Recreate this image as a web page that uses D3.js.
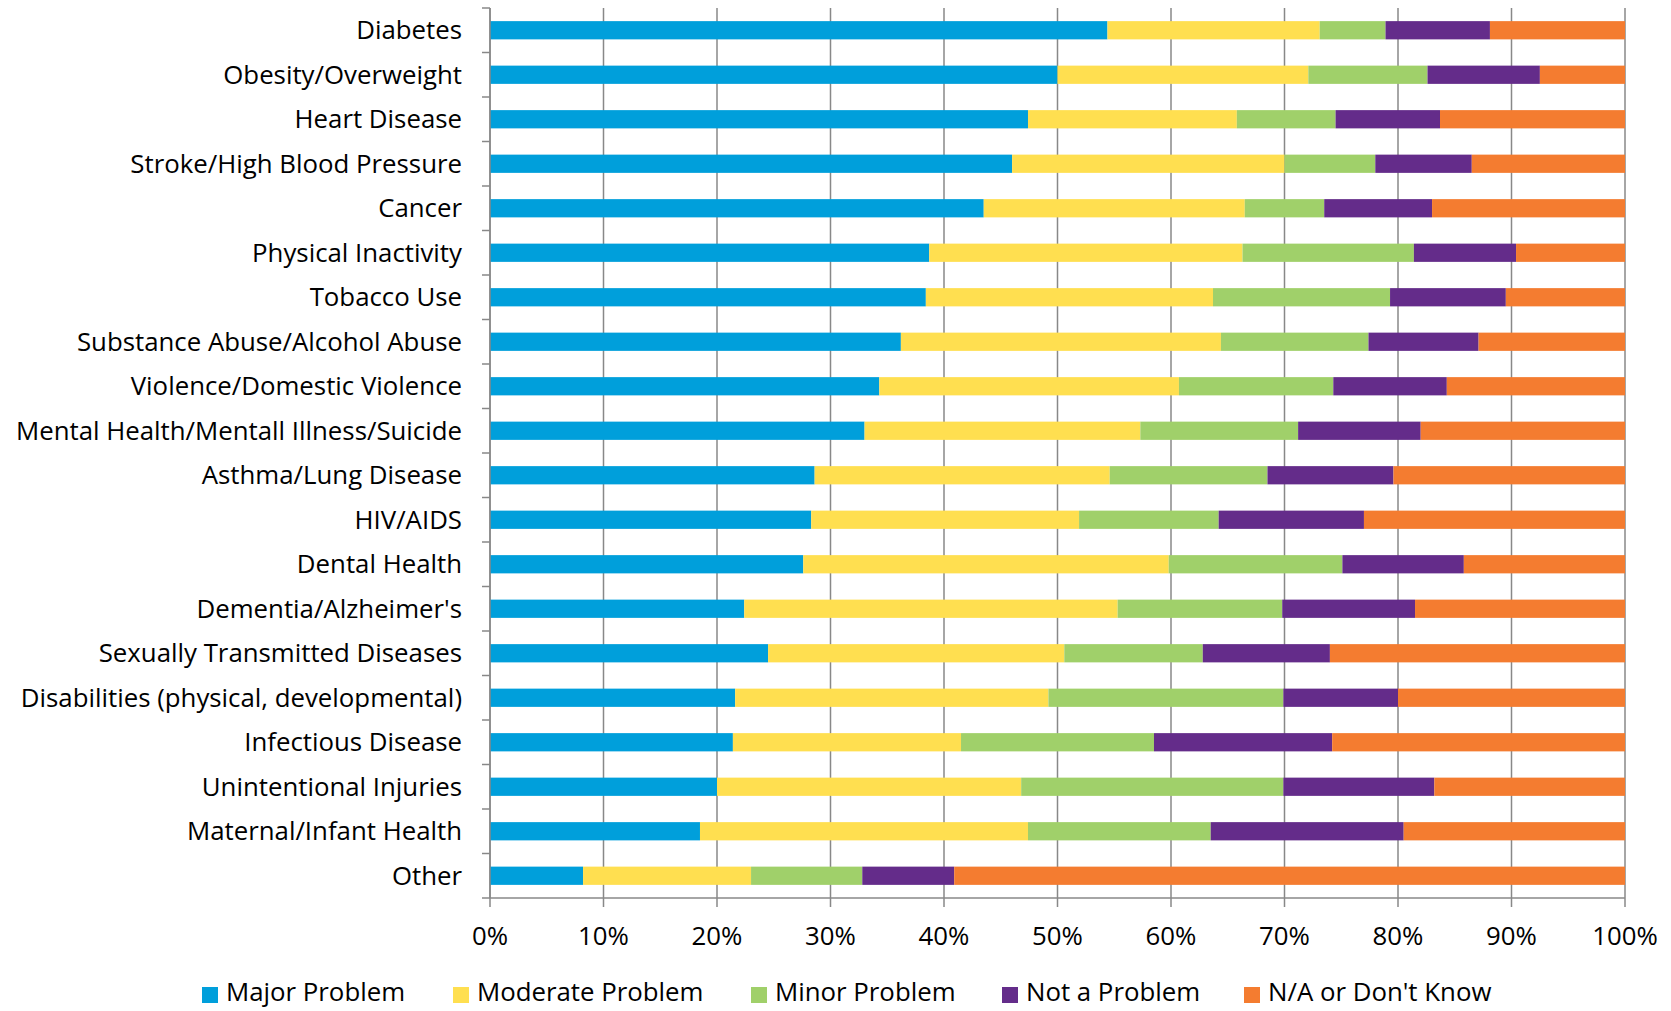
<!DOCTYPE html>
<html>
<head>
<meta charset="utf-8">
<script src="https://cdn.jsdelivr.net/npm/d3@7"></script>
<style>
  body { margin: 0; background: #fff; }
  text { font-family: "Open Sans", Lato, sans-serif; fill: #000; }
</style>
</head>
<body>
<div id="container"></div>
<script>
const categories = [
  "Diabetes", "Obesity/Overweight", "Heart Disease", "Stroke/High Blood Pressure",
  "Cancer", "Physical Inactivity", "Tobacco Use", "Substance Abuse/Alcohol Abuse",
  "Violence/Domestic Violence", "Mental Health/Mentall Illness/Suicide",
  "Asthma/Lung Disease", "HIV/AIDS", "Dental Health", "Dementia/Alzheimer's",
  "Sexually Transmitted Diseases", "Disabilities (physical, developmental)",
  "Infectious Disease", "Unintentional Injuries", "Maternal/Infant Health", "Other"
];

const seriesNames = ["Major Problem", "Moderate Problem", "Minor Problem", "Not a Problem", "N/A or Don't Know"];
const seriesColors = ["#009fdb", "#ffdf50", "#a0d06a", "#642c8a", "#f47c30"];

// percent shares per category, same order as categories
const major    = [54.4, 50.0, 47.4, 46.0, 43.5, 38.7, 38.4, 36.2, 34.3, 33.0, 28.6, 28.3, 27.6, 22.4, 24.5, 21.6, 21.4, 20.0, 18.5, 8.2];
const moderate = [18.7, 22.1, 18.4, 24.0, 23.0, 27.6, 25.3, 28.2, 26.4, 24.3, 26.0, 23.6, 32.2, 32.9, 26.1, 27.6, 20.1, 26.8, 28.9, 14.8];
const minor    = [5.8, 10.5, 8.7, 8.0, 7.0, 15.1, 15.6, 13.0, 13.6, 13.9, 13.9, 12.3, 15.3, 14.5, 12.2, 20.7, 17.0, 23.1, 16.1, 9.8];
const notProb  = [9.2, 9.9, 9.2, 8.5, 9.5, 9.0, 10.2, 9.7, 10.0, 10.8, 11.1, 12.8, 10.7, 11.7, 11.2, 10.1, 15.7, 13.3, 17.0, 8.1];
const naDk     = [11.9, 7.5, 16.3, 13.5, 17.0, 9.6, 10.5, 12.9, 15.7, 18.0, 20.4, 23.0, 14.2, 18.5, 26.0, 20.0, 25.8, 16.8, 19.5, 59.1];

const xTicks = [0, 10, 20, 30, 40, 50, 60, 70, 80, 90, 100];

const width = 1671, height = 1011;
const margin = { top: 8, right: 46, bottom: 113, left: 490 };
const plotW = width - margin.left - margin.right;
const plotH = height - margin.top - margin.bottom;
const fontSize = "25.8px";

const rows = categories.map((c, i) => ({
  category: c,
  "Major Problem": major[i],
  "Moderate Problem": moderate[i],
  "Minor Problem": minor[i],
  "Not a Problem": notProb[i],
  "N/A or Don't Know": naDk[i]
}));

const stack = d3.stack().keys(seriesNames).offset(d3.stackOffsetExpand);
const stacked = stack(rows);

const x = d3.scaleLinear().domain([0, 1]).range([0, plotW]);
const y = d3.scaleBand().domain(categories).range([0, plotH]).paddingInner(0.59).paddingOuter(0.295);
const color = d3.scaleOrdinal().domain(seriesNames).range(seriesColors);

const svg = d3.select("#container").append("svg")
  .attr("width", width)
  .attr("height", height);

const g = svg.append("g").attr("transform", `translate(${margin.left},${margin.top})`);

// vertical gridlines
g.append("g")
  .selectAll("line")
  .data(xTicks)
  .enter()
  .append("line")
  .attr("x1", (d) => x(d / 100))
  .attr("x2", (d) => x(d / 100))
  .attr("y1", 0)
  .attr("y2", plotH + 9)
  .attr("stroke", "#888")
  .attr("stroke-width", 1.5);

// bars
g.append("g")
  .selectAll("g")
  .data(stacked)
  .enter()
  .append("g")
  .attr("fill", (d) => color(d.key))
  .selectAll("rect")
  .data((d) => d)
  .enter()
  .append("rect")
  .attr("x", (d) => x(d[0]))
  .attr("y", (d) => y(d.data.category))
  .attr("width", (d) => x(d[1]) - x(d[0]))
  .attr("height", y.bandwidth());

// left axis line + ticks at band boundaries
const bandEdges = d3.range(categories.length + 1).map((i) => i * y.step());
g.append("line")
  .attr("x1", 0).attr("x2", 0)
  .attr("y1", 0).attr("y2", plotH)
  .attr("stroke", "#888").attr("stroke-width", 1.5);
g.append("g")
  .selectAll("line")
  .data(bandEdges)
  .enter()
  .append("line")
  .attr("x1", -8).attr("x2", 0)
  .attr("y1", (d) => d).attr("y2", (d) => d)
  .attr("stroke", "#888").attr("stroke-width", 1.5);

// bottom axis line
g.append("line")
  .attr("x1", 0).attr("x2", plotW)
  .attr("y1", plotH).attr("y2", plotH)
  .attr("stroke", "#888").attr("stroke-width", 1.5);

// category labels
g.append("g")
  .selectAll("text")
  .data(categories)
  .enter()
  .append("text")
  .attr("x", -28)
  .attr("y", (d) => y(d) + y.bandwidth() / 2)
  .attr("dy", "0.35em")
  .attr("text-anchor", "end")
  .attr("font-size", fontSize)
  .text((d) => d);

// x tick labels
g.append("g")
  .selectAll("text")
  .data(xTicks)
  .enter()
  .append("text")
  .attr("x", (d) => x(d / 100))
  .attr("y", plotH + 38)
  .attr("dy", "0.35em")
  .attr("text-anchor", "middle")
  .attr("font-size", fontSize)
  .text((d) => d + "%");

// legend
const legendX = [202, 453, 751, 1002, 1244];
const legend = svg.append("g")
  .selectAll("g")
  .data(seriesNames)
  .enter()
  .append("g")
  .attr("transform", (d, i) => `translate(${legendX[i]}, 994)`);
legend.append("rect")
  .attr("x", 0).attr("y", -7)
  .attr("width", 16).attr("height", 16)
  .attr("fill", (d) => color(d));
legend.append("text")
  .attr("x", 24)
  .attr("y", -2)
  .attr("dy", "0.35em")
  .attr("font-size", fontSize)
  .text((d) => d);
</script>
</body>
</html>
